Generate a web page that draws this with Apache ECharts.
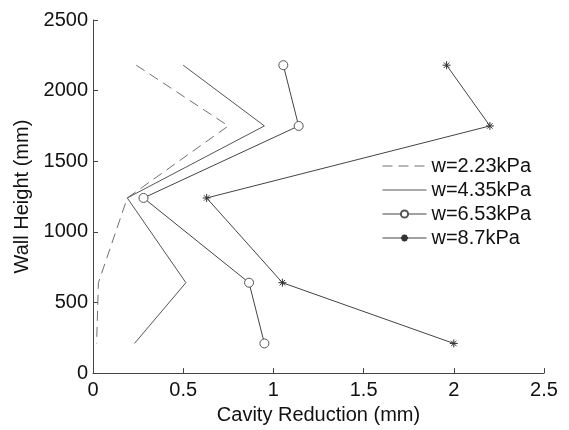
<!DOCTYPE html>
<html>
<head>
<meta charset="utf-8">
<script src="https://cdn.jsdelivr.net/npm/echarts@6/dist/echarts.min.js"></script>
<style>html,body{margin:0;padding:0;background:#fff;}#c{width:569px;height:430px;}</style>
</head>
<body>
<div id="c"></div>
<script>
const heights = [2180, 1750, 1240, 640, 210];
const names = ['w=2.23kPa', 'w=4.35kPa', 'w=6.53kPa', 'w=8.7kPa'];
const w223 = [0.24, 0.75, 0.19, 0.03, 0.02];
const w435 = [0.50, 0.95, 0.19, 0.515, 0.23];
const w653 = [1.055, 1.14, 0.28, 0.865, 0.95];
const w870 = [1.96, 2.20, 0.63, 1.05, 2.00];
const xTicks = [0, 0.5, 1, 1.5, 2, 2.5];
const yTicks = [0, 500, 1000, 1500, 2000, 2500];

function pairs(xs){ return xs.map((x,i)=>[x, heights[i]]); }
const font = 'Liberation Sans, Arial, sans-serif';
const starPath = 'path://M5,0L5,10M0,5L10,5M1.6,1.6L8.4,8.4M8.4,1.6L1.6,8.4';

const chart = echarts.init(document.getElementById('c'));
chart.setOption({
  animation: false,
  backgroundColor: '#fff',
  grid: {left: 93, right: 25, top: 20, bottom: 53},
  legend: {
    orient: 'vertical', left: 377, top: 151,
    itemWidth: 44, itemHeight: 9, itemGap: 4,
    textStyle: {fontFamily: font, fontSize: 20, color: '#111'},
    lineStyle: {width: 1},
    data: [
      {name: names[0], itemStyle: {opacity: 0}},
      {name: names[1], itemStyle: {opacity: 0}},
      {name: names[2]},
      {name: names[3]}
    ]
  },
  xAxis: {
    type: 'value', min: xTicks[0], max: xTicks[xTicks.length-1], interval: 0.5,
    name: 'Cavity Reduction (mm)', nameLocation: 'middle', nameGap: 30,
    nameTextStyle: {fontFamily: font, fontSize: 20, color: '#111'},
    axisLine: {lineStyle: {color: '#444'}},
    axisTick: {inside: true, length: 5, lineStyle: {color: '#444'}},
    axisLabel: {fontFamily: font, fontSize: 20, color: '#111', margin: 7, formatter: v => String(v)},
    splitLine: {show: false}
  },
  yAxis: {
    type: 'value', min: yTicks[0], max: yTicks[yTicks.length-1], interval: 500,
    name: 'Wall Height (mm)', nameLocation: 'middle', nameGap: 51,
    nameTextStyle: {fontFamily: font, fontSize: 20, color: '#111'},
    axisLine: {show: true, lineStyle: {color: '#444'}},
    axisTick: {show: true, inside: true, length: 5, lineStyle: {color: '#444'}},
    axisLabel: {fontFamily: font, fontSize: 20, color: '#111', margin: 5, formatter: v => String(v)},
    splitLine: {show: false}
  },
  series: [
    {name: names[0], type: 'line', data: pairs(w223), symbol: 'none',
     lineStyle: {color: '#707070', width: 1, type: [10, 6]}, itemStyle: {color: '#707070'}},
    {name: names[1], type: 'line', data: pairs(w435), symbol: 'none',
     lineStyle: {color: '#555', width: 1}, itemStyle: {color: '#555'}},
    {name: names[2], type: 'line', data: pairs(w653), symbol: 'circle', symbolSize: 9,
     lineStyle: {color: '#444', width: 1}, itemStyle: {color: '#fff', borderColor: '#555', borderWidth: 1}},
    {name: names[3], type: 'line', data: pairs(w870), symbol: starPath, symbolSize: 8,
     lineStyle: {color: '#444', width: 1}, itemStyle: {color: '#333', borderColor: '#333', borderWidth: 1}}
  ]
});
</script>
</body>
</html>
